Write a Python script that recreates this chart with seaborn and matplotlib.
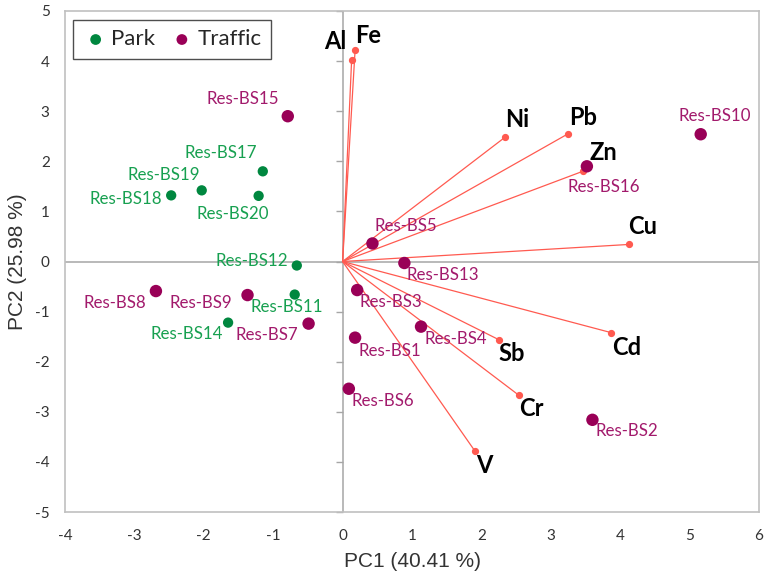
import numpy as np
import pandas as pd
import matplotlib
matplotlib.use("Agg")
import matplotlib.pyplot as plt
import seaborn as sns

# ---------------- data ----------------
sample_names = ["Res-BS17", "Res-BS19", "Res-BS18", "Res-BS20", "Res-BS12", "Res-BS11", "Res-BS14",
                "Res-BS15", "Res-BS8", "Res-BS9", "Res-BS7", "Res-BS3", "Res-BS1", "Res-BS6",
                "Res-BS5", "Res-BS13", "Res-BS16", "Res-BS10", "Res-BS4", "Res-BS2"]
sample_group = ["Park"] * 7 + ["Traffic"] * 13
pc1_scores = [-1.15, -2.03, -2.47, -1.21, -0.66, -0.69, -1.65,
              -0.79, -2.69, -1.37, -0.49, 0.21, 0.18, 0.09,
              0.43, 0.89, 3.52, 5.16, 1.13, 3.60]
pc2_scores = [1.80, 1.42, 1.32, 1.31, -0.08, -0.66, -1.22,
              2.90, -0.59, -0.67, -1.24, -0.57, -1.52, -2.54,
              0.36, -0.03, 1.90, 2.54, -1.30, -3.16]

elements = ["Fe", "Al", "Ni", "Pb", "Zn", "Cu", "Cd", "Sb", "Cr", "V"]
pc1_loadings = [0.18, 0.13, 2.34, 3.25, 3.46, 4.12, 3.87, 2.25, 2.54, 1.91]
pc2_loadings = [4.22, 4.02, 2.48, 2.55, 1.80, 0.34, -1.42, -1.56, -2.67, -3.79]

x_ticks = [-4, -3, -2, -1, 0, 1, 2, 3, 4, 5, 6]
y_ticks = [-5, -4, -3, -2, -1, 0, 1, 2, 3, 4, 5]
x_label = "PC1 (40.41 %)"
y_label = "PC2 (25.98 %)"

# ---------------- layout / style (not data) ----------------
# label placement: (ha, dx px, dy px up)
sample_label_pos = {
    "Res-BS15": ("right", -9, 17), "Res-BS17": ("right", -6, 18), "Res-BS19": ("right", -2, 15),
    "Res-BS18": ("right", -9, -4), "Res-BS20": ("center", -26, -18), "Res-BS12": ("right", -9, 5),
    "Res-BS8": ("right", -10, -12), "Res-BS9": ("right", -15, -8), "Res-BS11": ("center", -8, -12),
    "Res-BS14": ("right", -5, -11), "Res-BS7": ("right", -10, -11), "Res-BS3": ("left", 2, -12),
    "Res-BS1": ("left", 3, -13), "Res-BS6": ("left", 3, -12), "Res-BS4": ("left", 3, -12),
    "Res-BS2": ("left", 3, -11), "Res-BS13": ("left", 2, -12), "Res-BS5": ("left", 2, 17),
    "Res-BS16": ("left", -19, -21), "Res-BS10": ("center", 14, 18),
}
# (ha, va, dx px, dy px up)
element_label_pos = {
    "Fe": ("left", "bottom", 0, 3), "Al": ("right", "bottom", -5, 7), "Ni": ("left", "bottom", 0, 6),
    "Pb": ("left", "bottom", 1, 5), "Zn": ("left", "bottom", 7, 7), "Cu": ("left", "bottom", 0, 6),
    "Cd": ("left", "top", 1, -3), "Sb": ("left", "top", 0, -2), "Cr": ("left", "top", 0, -2),
    "V": ("left", "top", 1, -3),
}

marker_colors = {"Park": "#00873F", "Traffic": "#990057"}
text_colors = {"Park": "#17A050", "Traffic": "#A21A6C"}
marker_sizes = {"Park": 55, "Traffic": 80}
arrow_color = "#FF5A50"
grey_frame = "#C0C0C0"
grey_axis = "#A6A6A6"

sns.set_theme(style="white")
plt.rcParams["font.family"] = ["Lato", "DejaVu Sans"]
label_family = ["Liberation Sans", "DejaVu Sans"]

DPI = 100
fig = plt.figure(figsize=(7.64, 5.78), dpi=DPI)
ax = fig.add_axes([65 / 764, 1 - 512 / 578, (759 - 65) / 764, (512 - 11) / 578])

df = pd.DataFrame({"PC1": pc1_scores, "PC2": pc2_scores, "Group": sample_group, "Name": sample_names})

ax.set_xlim(-4, 6)
ax.set_ylim(-5, 5)

# zero axes lines
ax.axhline(0, color=grey_axis, lw=1.1, zorder=1)
ax.axvline(0, color=grey_axis, lw=1.1, zorder=1)
# tick marks on the vertical zero line
ax.plot(np.zeros(len(y_ticks)), y_ticks, linestyle="none", marker=0, markersize=5,
        markeredgewidth=1.0, color=grey_axis, zorder=1, clip_on=False)

# loading vectors
for el, lx, ly in zip(elements, pc1_loadings, pc2_loadings):
    ax.plot([0, lx], [0, ly], color=arrow_color, lw=0.9, zorder=2)
ax.plot(pc1_loadings, pc2_loadings, linestyle="none", marker="o", markersize=4.2,
        color=arrow_color, zorder=3)

# sample scores
for grp in ["Park", "Traffic"]:
    sub = df[df["Group"] == grp]
    sns.scatterplot(data=sub, x="PC1", y="PC2", ax=ax, color=marker_colors[grp],
                    s=marker_sizes[grp], edgecolor="none", label=grp, zorder=4)

for name, x, y, grp in zip(sample_names, pc1_scores, pc2_scores, sample_group):
    ha, dx, dy = sample_label_pos[name]
    ax.annotate(name, (x, y), xytext=(dx * 0.72, dy * 0.72), textcoords="offset points",
                ha=ha, va="center", fontsize=12.2, color=text_colors[grp], zorder=5)

for el, lx, ly in zip(elements, pc1_loadings, pc2_loadings):
    ha, va, dx, dy = element_label_pos[el]
    ax.annotate(el, (lx, ly), xytext=(dx * 0.72, dy * 0.72), textcoords="offset points",
                ha=ha, va=va, fontsize=17, fontweight="bold", color="black", zorder=5)

# frame
for sp in ax.spines.values():
    sp.set_visible(True)
    sp.set_color(grey_frame)
    sp.set_linewidth(1.2)

ax.set_xticks(x_ticks)
ax.set_yticks(y_ticks)
ax.set_xticklabels([str(t) for t in x_ticks], fontsize=11, color="#333333")
ax.set_yticklabels([str(t) for t in y_ticks], fontsize=11, color="#333333")
ax.tick_params(axis="x", length=0, pad=12)
ax.tick_params(axis="y", length=0, pad=11)
ax.set_xlabel(x_label, fontfamily=label_family, fontsize=15, color="#333333", labelpad=7)
ax.set_ylabel(y_label, fontfamily=label_family, fontsize=15, color="#333333", labelpad=6)

leg = ax.legend(loc="upper left", ncol=2, bbox_to_anchor=(0.0115, 0.982), borderaxespad=0,
                frameon=True, fontsize=16, handletextpad=0.1, columnspacing=0.6,
                borderpad=0.42, handlelength=1.2, fancybox=False, markerscale=1.0)
leg.get_frame().set_edgecolor("#222222")
leg.get_frame().set_linewidth(1.0)
for h in leg.legend_handles:
    h.set_sizes([60])

fig.savefig("out.png", dpi=DPI)
